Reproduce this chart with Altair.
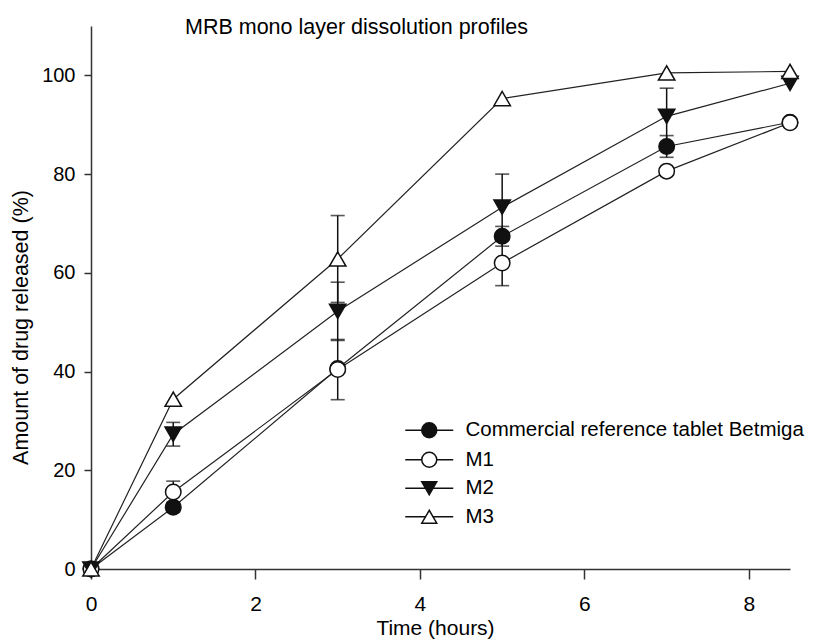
import altair as alt
import pandas as pd

# ---- data ----
time_h = [0, 1, 3, 5, 7, 8.5]
series_names = ["Commercial reference tablet Betmiga", "M1", "M2", "M3"]
commercial = [0, 12.5, 40.6, 67.4, 85.6, 90.5]
m1 = [0, 15.6, 40.4, 62.0, 80.6, 90.4]
m2 = [0, 27.3, 52.2, 73.3, 91.7, 98.4]
m3 = [0, 34.4, 62.8, 95.3, 100.5, 100.8]
commercial_err = [0, 1.0, 0, 2.0, 2.2, 0]
m1_err = [0, 2.2, 6.1, 4.6, 0, 0]
m2_err = [0, 2.4, 5.9, 6.7, 5.7, 0]
m3_err = [0, 0, 8.8, 0, 0, 0]
x_ticks = [0, 2, 4, 6, 8]
y_ticks = [0, 20, 40, 60, 80, 100]

values = [commercial, m1, m2, m3]
errors = [commercial_err, m1_err, m2_err, m3_err]
rows = []
for name, vals, errs in zip(series_names, values, errors):
    for t, v, e in zip(time_h, vals, errs):
        rows.append({"series": name, "t": t, "v": v, "err": e, "lo": v - e, "hi": v + e})
df = pd.DataFrame(rows)

FONT = "Liberation Sans"
BLACK = "#111111"

x_enc = alt.X("t:Q", scale=alt.Scale(domain=[0, 8.5], nice=False),
              axis=alt.Axis(values=x_ticks, format="d", title="Time (hours)", grid=False,
                            tickSize=10, labelPadding=14, labelFontSize=21, labelFlush=False,
                            titleFontSize=21, titleFontWeight="normal",
                            titleX=344, titleY=59, titleBaseline="middle",
                            titleAlign="center"))
y_enc = alt.Y("v:Q", scale=alt.Scale(domain=[0, 110], nice=False),
              axis=alt.Axis(values=y_ticks, format="d", title="Amount of drug released (%)", grid=False,
                            tickSize=7, labelPadding=9, labelFontSize=20, labelFlush=False,
                            titleFontSize=21.5, titleFontWeight="normal",
                            titleX=-70, titleY=301, titleAngle=-90,
                            titleBaseline="middle", titleAlign="center"))

base = alt.Chart(df)

lines = base.mark_line(color="#222222", strokeWidth=1.2).encode(
    x=x_enc, y=y_enc, detail="series:N")

err_df = df[df["err"] > 0]
err_base = alt.Chart(err_df)
err_rule = err_base.mark_rule(color=BLACK, strokeWidth=1.5).encode(
    x="t:Q", y="lo:Q", y2="hi:Q")
err_cap_hi = err_base.mark_tick(color=BLACK, orient="horizontal", size=14, thickness=1.6).encode(
    x="t:Q", y="hi:Q")
err_cap_lo = err_base.mark_tick(color=BLACK, orient="horizontal", size=14, thickness=1.6).encode(
    x="t:Q", y="lo:Q")

marker_styles = {
    "Commercial reference tablet Betmiga": ("circle", BLACK, 240),
    "M1": ("circle", "white", 240),
    "M2": ("triangle-down", BLACK, 270),
    "M3": ("triangle-up", "white", 270),
}
point_layers = []
for name in series_names:
    shp, fill, sz = marker_styles[name]
    point_layers.append(
        base.transform_filter(alt.datum.series == name).mark_point(
            shape=shp, filled=True, fill=fill, stroke=BLACK, strokeWidth=1.5,
            size=sz, opacity=1).encode(x="t:Q", y="v:Q"))

# legend: symbols with a line through them
circle_line = "M-3.2,0 L-1,0 M1,0 L3.2,0 M1,0 A1,1 0 1,1 -1,0 A1,1 0 1,1 1,0 Z"
tri_down_line = "M-3.2,0 L3.2,0 M-1,-0.866 L1,-0.866 L0,0.866 Z"
tri_up_line = "M-3.2,0 L-0.5,0 M0.5,0 L3.2,0 M0,-0.866 L-1,0.866 L1,0.866 Z"

leg = alt.Legend(title=None, orient="none", legendX=328, legendY=394,
                 symbolSize=225, symbolStrokeColor=BLACK,
                 symbolStrokeWidth=1.5, labelOffset=26,
                 labelFontSize=20.5, labelFont=FONT, labelColor="black",
                 rowPadding=7.5, padding=0, labelLimit=0, symbolOpacity=1)

legend_layer = base.transform_filter(alt.datum.t < -1).mark_point(
    filled=False, color=BLACK, strokeWidth=1.5, size=225, opacity=1).encode(
    x="t:Q", y="v:Q",
    shape=alt.Shape("series:N",
                    scale=alt.Scale(domain=series_names,
                                    range=[circle_line, circle_line, tri_down_line, tri_up_line]),
                    legend=leg),
    fill=alt.Fill("series:N",
                  scale=alt.Scale(domain=series_names,
                                  range=[BLACK, "white", BLACK, "white"]),
                  legend=leg),
    stroke=alt.Stroke("series:N",
                      scale=alt.Scale(domain=series_names,
                                      range=[BLACK, BLACK, BLACK, BLACK]),
                      legend=leg),
)

chart = alt.layer(lines, err_rule, err_cap_hi, err_cap_lo, *point_layers, legend_layer).properties(
    width=699, height=543,
    autosize=alt.AutoSizeParams(type="none"),
    padding={"left": 83, "top": 18, "right": 19, "bottom": 70},
    title=alt.TitleParams("MRB mono layer dissolution profiles", anchor="start", frame="group",
                          dx=94, offset=0, dy=29, baseline="alphabetic",
                          fontSize=21.5, font=FONT, fontWeight="normal", color="black"),
).configure_view(stroke=None).configure_axis(
    labelFont=FONT, titleFont=FONT, labelColor="black", titleColor="black",
    domainColor="#333333", domainWidth=1.5, tickColor="#333333", tickWidth=1.5,
)

chart.save("out.html", embed_options={"renderer": "svg", "actions": False})
